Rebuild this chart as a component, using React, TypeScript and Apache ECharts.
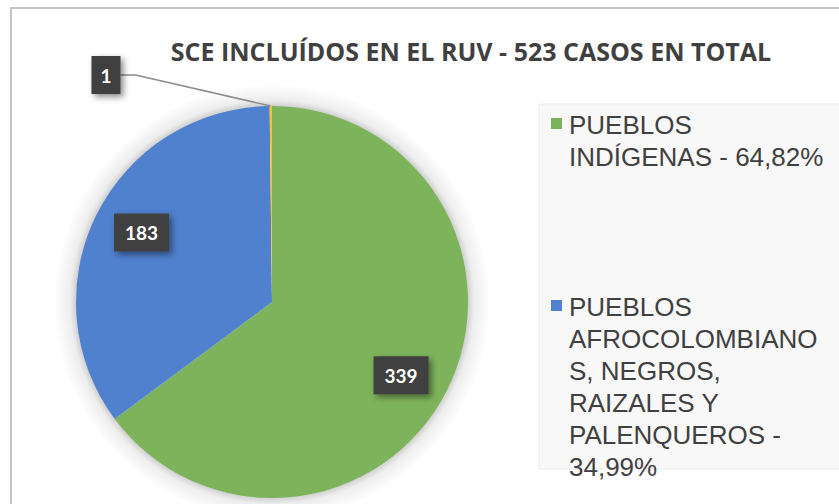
import React, { useEffect, useRef } from "react";
import * as echarts from "echarts";

const titleText = "SCE INCLUÍDOS EN EL RUV - 523 CASOS EN TOTAL";
const categories = [
  "PUEBLOS INDÍGENAS",
  "PUEBLOS AFROCOLOMBIANOS, NEGROS, RAIZALES Y PALENQUEROS",
  "PUEBLO ROM",
];
const values = [339, 183, 1];
const colors = ["#7DB35A", "#4F81CF", "#F2C232"];
// legend text as wrapped in the reference (percent appended from data)
const legendLines = [
  ["PUEBLOS", "INDÍGENAS - {p}"],
  ["PUEBLOS", "AFROCOLOMBIANO", "S, NEGROS,", "RAIZALES Y", "PALENQUEROS -", "{p}"],
];

export default function App() {
  const ref = useRef<HTMLDivElement>(null);
  useEffect(() => {
    if (!ref.current) return;
    const chart = echarts.init(ref.current, undefined, { renderer: "svg" });
    const total = values.reduce((a, b) => a + b, 0);
    const pct = (v: number) => ((v / total) * 100).toFixed(2).replace(".", ",") + "%";

    const cx = 272;
    const cy = 302;
    const R = 196;
    const S = 22; // shadow width

    const labelBox = {
      color: "#ffffff",
      fontFamily: "Lato",
      fontWeight: "bold" as const,
      fontSize: 19,
      backgroundColor: "#404040",
      padding: [10, 11, 9, 11],
      shadowColor: "rgba(0,0,0,0.45)",
      shadowBlur: 6,
      shadowOffsetX: 3,
      shadowOffsetY: 3,
    };

    const legendItems: any[] = [
      {
        type: "rect",
        shape: { x: 539, y: 104, width: 320, height: 365 },
        style: { fill: "#F8F8F8", stroke: "#ECECEC", lineWidth: 1 },
        z: 1,
      },
    ];
    const legendTops = [110, 292];
    legendLines.forEach((lines, i) => {
      const top = legendTops[i];
      legendItems.push({
        type: "rect",
        shape: { x: 551, y: top + 8, width: 11, height: 11 },
        style: { fill: colors[i] },
        z: 3,
      });
      legendItems.push({
        type: "text",
        x: 569,
        y: top - 1,
        z: 3,
        style: {
          text: lines.join("\n").replace("{p}", pct(values[i])),
          fontFamily: "Liberation Sans",
          fontSize: 26,
          lineHeight: 32,
          fill: "#404040",
          verticalAlign: "top",
          align: "left",
        },
      });
    });

    const labelOffsets = [
      [-5, 6],
      [4, -3],
    ];

    chart.setOption({
      animation: false,
      backgroundColor: "#ffffff",
      title: {
        text: titleText,
        left: 466,
        top: 33,
        textAlign: "center",
        textStyle: {
          fontFamily: "Open Sans",
          fontWeight: "bold",
          fontSize: 25,
          color: "#404040",
        },
      },
      graphic: [
        {
          type: "rect",
          shape: { x: 11, y: 8, width: 900, height: 600 },
          style: { fill: "none", stroke: "#C4C4C4", lineWidth: 2 },
          z: -10,
        },
        ...legendItems,
      ],
      series: [
        {
          // soft shadow ring around the pie
          type: "pie",
          silent: true,
          center: [cx, cy],
          radius: [R - 2, R + S],
          startAngle: 90,
          label: { show: false },
          labelLine: { show: false },
          itemStyle: {
            color: new echarts.graphic.RadialGradient(0.5, 0.5, 0.5, [
              { offset: (R - 2) / (R + S), color: "rgba(0,0,0,0.22)" },
              { offset: (R + 6) / (R + S), color: "rgba(0,0,0,0.07)" },
              { offset: 1, color: "rgba(0,0,0,0)" },
            ]),
          },
          data: [{ value: total, name: "_bg" }],
          z: 1,
        },
        {
          type: "pie",
          center: [cx, cy],
          radius: R,
          startAngle: 90,
          clockwise: true,
          avoidLabelOverlap: false,
          emphasis: { disabled: true },
          data: values.map((v, i) => ({
            value: v,
            name: categories[i],
            itemStyle: { color: colors[i] },
            label:
              i === 2
                ? { show: true, position: "outside", formatter: "{c}", ...labelBox, padding: [10, 9, 9, 9] }
                : { show: false },
            labelLine:
              i === 2
                ? { show: true, length: 20, length2: 15, lineStyle: { color: "#8C8C8C", width: 1.5 } }
                : { show: false },
          })),
          labelLayout: (p: any) =>
            p.dataIndex === 2
              ? { x: 106, y: 75, align: "center", verticalAlign: "middle" }
              : {},
          z: 2,
        },
        {
          // label ring, places value labels at 3/4 of the radius
          type: "pie",
          silent: true,
          center: [cx, cy],
          radius: [R / 2, R],
          startAngle: 90,
          clockwise: true,
          avoidLabelOverlap: false,
          itemStyle: { color: "rgba(0,0,0,0)" },
          labelLine: { show: false },
          data: values.map((v, i) => ({
            value: v,
            name: categories[i] + "_l",
            label: i === 2 ? { show: false } : { show: true, position: "inside", ...labelBox },
          })),
          label: { formatter: "{c}" },
          labelLayout: (p: any) =>
            p.dataIndex < 2
              ? { dx: labelOffsets[p.dataIndex][0], dy: labelOffsets[p.dataIndex][1] }
              : {},
          z: 3,
        },
      ],
    });
    return () => chart.dispose();
  }, []);
  return (
    <div
      ref={ref}
      style={{ position: "absolute", left: 0, top: 0, width: 839, height: 504 }}
    />
  );
}
